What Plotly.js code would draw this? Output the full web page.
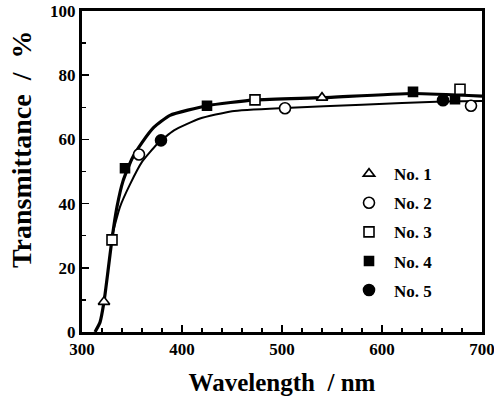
<!DOCTYPE html>
<html>
<head>
<meta charset="utf-8">
<script src="https://cdn.plot.ly/plotly-3.0.1.min.js"></script>
<style>html,body{margin:0;padding:0;background:#fff;}#chart{width:494px;height:403px;}</style>
</head>
<body>
<div id="chart"></div>
<script>
// Sample measurement points (wavelength nm, transmittance %)
const no1_x = [322, 540];
const no1_y = [9.4, 73.0];
const no2_x = [357, 503, 689];
const no2_y = [55.3, 69.7, 70.5];
const no3_x = [330, 473, 678];
const no3_y = [28.7, 72.3, 75.6];
const no4_x = [343, 425, 631, 673];
const no4_y = [51.0, 70.5, 74.8, 72.5];
const no5_x = [379, 661];
const no5_y = [59.7, 72.2];

// Curves drawn through the data
const upper_x = [313, 318, 322, 326, 330, 335, 341, 350, 360, 372, 388, 425, 473, 540, 631, 700];
const upper_y = [0, 3, 9.4, 19, 29, 39, 47, 54, 59, 63.8, 67.5, 70.5, 72.3, 73.0, 74.3, 73.5];
const lower_x = [330, 338, 348, 360, 375, 392, 418, 450, 503, 580, 661, 700];
const lower_y = [30, 39, 46, 53, 58.5, 62.8, 66.5, 68.8, 69.8, 70.8, 71.8, 72.0];

const names = ['No. 1', 'No. 2', 'No. 3', 'No. 4', 'No. 5'];
const yTitle = 'Transmittance  /  %';
const xTitle = 'Wavelength  / nm';

const FONT = 'Liberation Serif, Times New Roman, serif';
const mk = (sym, size) => ({symbol: sym, size: size, color: '#000', line: {color: '#000', width: 1.6}});

const traces = [
  {x: upper_x, y: upper_y, mode: 'lines', line: {color: '#000', width: 3.2, shape: 'spline', smoothing: 0.5}, showlegend: false, hoverinfo: 'skip'},
  {x: lower_x, y: lower_y, mode: 'lines', line: {color: '#000', width: 2, shape: 'spline', smoothing: 0.5}, showlegend: false, hoverinfo: 'skip'},
  {x: no1_x, y: no1_y, mode: 'markers', name: names[0], legendgroup: 'a', marker: Object.assign(mk('triangle-up', 10), {color: '#fff'})},
  {x: no2_x, y: no2_y, mode: 'markers', name: names[1], legendgroup: 'b', marker: Object.assign(mk('circle', 11), {color: '#fff'})},
  {x: no3_x, y: no3_y, mode: 'markers', name: names[2], legendgroup: 'c', marker: Object.assign(mk('square', 10), {color: '#fff'})},
  {x: no4_x, y: no4_y, mode: 'markers', name: names[3], legendgroup: 'd', marker: mk('square', 9)},
  {x: no5_x, y: no5_y, mode: 'markers', name: names[4], legendgroup: 'e', marker: mk('circle', 11)}
];

const layout = {
  width: 494, height: 403,
  margin: {l: 82, r: 12, t: 11, b: 71},
  paper_bgcolor: '#fff', plot_bgcolor: '#fff',
  font: {family: FONT, color: '#000', size: 16, weight: 'bold'},
  showlegend: true,
  legend: {x: 0.655, y: 0.548, xanchor: 'left', yanchor: 'top', bgcolor: 'rgba(0,0,0,0)',
           font: {family: FONT, size: 17, weight: 'bold'}, tracegroupgap: 4, itemwidth: 40},
  xaxis: {
    range: [300, 700], dtick: 100, tick0: 300,
    ticks: 'inside', ticklen: 7, tickwidth: 1.5, tickcolor: '#000',
    minor: {dtick: 20, ticks: 'inside', ticklen: 4, tickwidth: 1.5, tickcolor: '#000'},
    showline: true, linewidth: 3, linecolor: '#000', mirror: true,
    showgrid: false, zeroline: false, ticklabeloverflow: 'allow',
    tickfont: {family: FONT, size: 17, weight: 'bold'},
    title: {text: xTitle, font: {family: FONT, size: 25, weight: 'bold'}, standoff: 16}
  },
  yaxis: {
    range: [0, 100], dtick: 20,
    ticks: 'inside', ticklen: 7, tickwidth: 1.5, tickcolor: '#000',
    minor: {dtick: 10, ticks: 'inside', ticklen: 4, tickwidth: 1.5, tickcolor: '#000'},
    showline: true, linewidth: 3, linecolor: '#000', mirror: true,
    showgrid: false, zeroline: false, ticklabeloverflow: 'allow',
    tickfont: {family: FONT, size: 17, weight: 'bold'}
  },
  annotations: [{
    text: yTitle, textangle: -90, showarrow: false,
    xref: 'paper', yref: 'paper', x: -0.15, y: 0.567, xanchor: 'center', yanchor: 'middle',
    font: {family: FONT, size: 28, weight: 'bold'}
  }]
};

Plotly.newPlot('chart', traces, layout, {displayModeBar: false, staticPlot: true});
</script>
</body>
</html>
